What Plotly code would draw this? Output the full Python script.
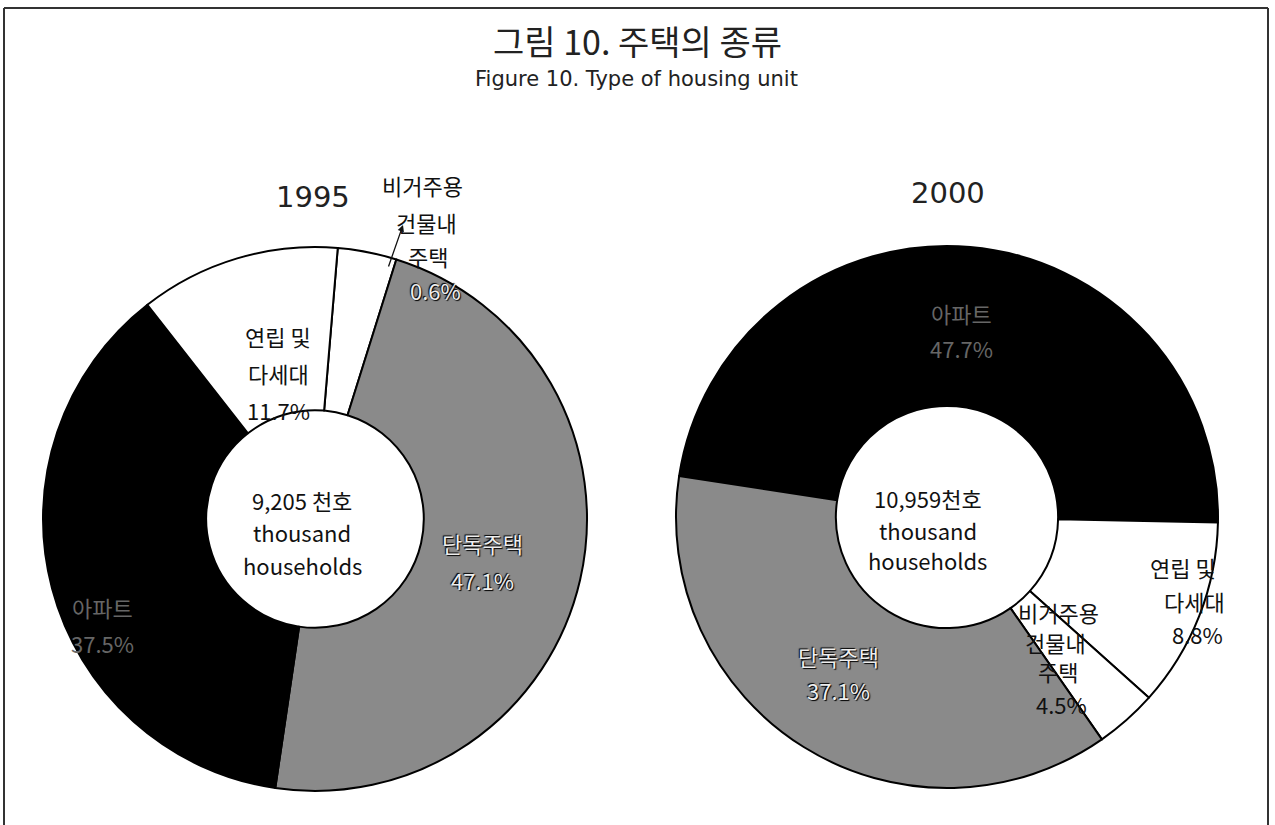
import plotly.graph_objects as go

W, H = 1275, 825

# 1995 - slices clockwise from the top
housing_1995 = ['비거주용 건물내 주택', '단독주택', '아파트', '연립 및 다세대']
share_1995 = [3.5, 47.5, 37.1, 11.9]              # slice sizes as drawn
printed_1995 = ['0.6%', '47.1%', '37.5%', '11.7%']  # percentages as printed
total_1995 = '9,205 천호'

# 2000 - slices clockwise from the left
housing_2000 = ['아파트', '연립 및 다세대', '비거주용 건물내 주택', '단독주택']
share_2000 = [47.9, 11.3, 3.7, 37.1]
printed_2000 = ['47.7%', '8.8%', '4.5%', '37.1%']
total_2000 = '10,959천호'

fills = {'단독주택': '#8a8a8a', '아파트': '#000000',
         '연립 및 다세대': '#ffffff', '비거주용 건물내 주택': '#ffffff'}
split_name = {'단독주택': ['단독주택'], '아파트': ['아파트'],
              '연립 및 다세대': ['연립 및', '다세대'],
              '비거주용 건물내 주택': ['비거주용', '건물내', '주택']}

KR = 'Noto Sans CJK KR'


def domain(cx, cy, r):
    return dict(x=[(cx - r) / W, (cx + r) / W], y=[1 - (cy + r) / H, 1 - (cy - r) / H])


fig = go.Figure()
fig.add_trace(go.Pie(labels=housing_1995, values=share_1995, sort=False,
                     direction='clockwise', rotation=4.8, hole=0.4,
                     marker=dict(colors=[fills[k] for k in housing_1995],
                                 line=dict(color='black', width=2)),
                     textinfo='none', hoverinfo='label+percent',
                     domain=domain(315, 519, 272), showlegend=False))
fig.add_trace(go.Pie(labels=housing_2000, values=share_2000, sort=False,
                     direction='clockwise', rotation=278.7, hole=0.41,
                     marker=dict(colors=[fills[k] for k in housing_2000],
                                 line=dict(color='black', width=2)),
                     textinfo='none', hoverinfo='label+percent',
                     domain=domain(947, 517, 271), showlegend=False))

annots = []


def text(x, y, s, size=22, color='#111', family=KR, shadow=None):
    f = dict(family=family, size=size, color=color)
    if shadow:
        f['shadow'] = shadow
    annots.append(dict(x=x / W, y=1 - y / H, xref='paper', yref='paper', text=s,
                       showarrow=False, font=f, xanchor='center', yanchor='middle',
                       borderpad=0))


def block(x, ys, lines, color='#111', shadow=None):
    xs = x if isinstance(x, list) else [x] * len(lines)
    for xx, yy, s in zip(xs, ys, lines):
        text(xx, yy, s, color=color, shadow=shadow)


LIGHT = '#eeeeee'
OUT = '1px 1px 1px #000, -1px -1px 1px #000'
DARKTXT = '#666666'

# titles
text(637, 41, '그림 10. 주택의 종류', size=34, color='#222')
text(636, 79, 'Figure 10. Type of housing unit', size=21, color='#222', family='DejaVu Sans')
text(313, 197, '1995', size=29, color='#222', family='DejaVu Sans')
text(948, 193, '2000', size=29, color='#222', family='DejaVu Sans')

# 1995 labels
block([422, 426, 428], [185, 222, 256], split_name[housing_1995[0]])
block(435, [290], [printed_1995[0]], color=LIGHT, shadow=OUT)
block(482, [543, 580], split_name[housing_1995[1]] + [printed_1995[1]], color=LIGHT, shadow=OUT)
block(102, [607, 643], split_name[housing_1995[2]] + [printed_1995[2]], color=DARKTXT)
block(278, [336, 373, 410], split_name[housing_1995[3]] + [printed_1995[3]])
block(302, [500, 532, 565], [total_1995, 'thousand', 'households'])

# 2000 labels
block(961, [313, 348], split_name[housing_2000[0]] + [printed_2000[0]], color=DARKTXT)
block([1183, 1194, 1197], [567, 601, 634], split_name[housing_2000[1]] + [printed_2000[1]])
block([1058, 1055, 1058, 1061], [612, 642, 671, 704],
      split_name[housing_2000[2]] + [printed_2000[2]])
block(838, [656, 690], split_name[housing_2000[3]] + [printed_2000[3]], color=LIGHT, shadow=OUT)
block(928, [498, 530, 560], [total_2000, 'thousand', 'households'])

# leader arrow for the thin 1995 slice
annots.append(dict(x=403 / W, y=1 - 225 / H, xref='paper', yref='paper', text='',
                   showarrow=True, arrowhead=2, arrowsize=1, arrowwidth=1.3,
                   arrowcolor='#111', ax=-15, ay=43))

# frame (open at the bottom)
frame = [dict(type='line', xref='paper', yref='paper', x0=4 / W, x1=1268 / W,
              y0=1 - 8 / H, y1=1 - 8 / H, line=dict(color='#333', width=2)),
         dict(type='line', xref='paper', yref='paper', x0=4 / W, x1=4 / W,
              y0=1 - 8 / H, y1=0, line=dict(color='#333', width=2)),
         dict(type='line', xref='paper', yref='paper', x0=1268 / W, x1=1268 / W,
              y0=1 - 8 / H, y1=0, line=dict(color='#333', width=2))]

fig.update_layout(width=W, height=H, margin=dict(l=0, r=0, t=0, b=0),
                  paper_bgcolor='white', plot_bgcolor='white',
                  annotations=annots, shapes=frame)

fig.write_html('out.html', config={'displayModeBar': False},
               post_script="document.body.style.margin='0';")
